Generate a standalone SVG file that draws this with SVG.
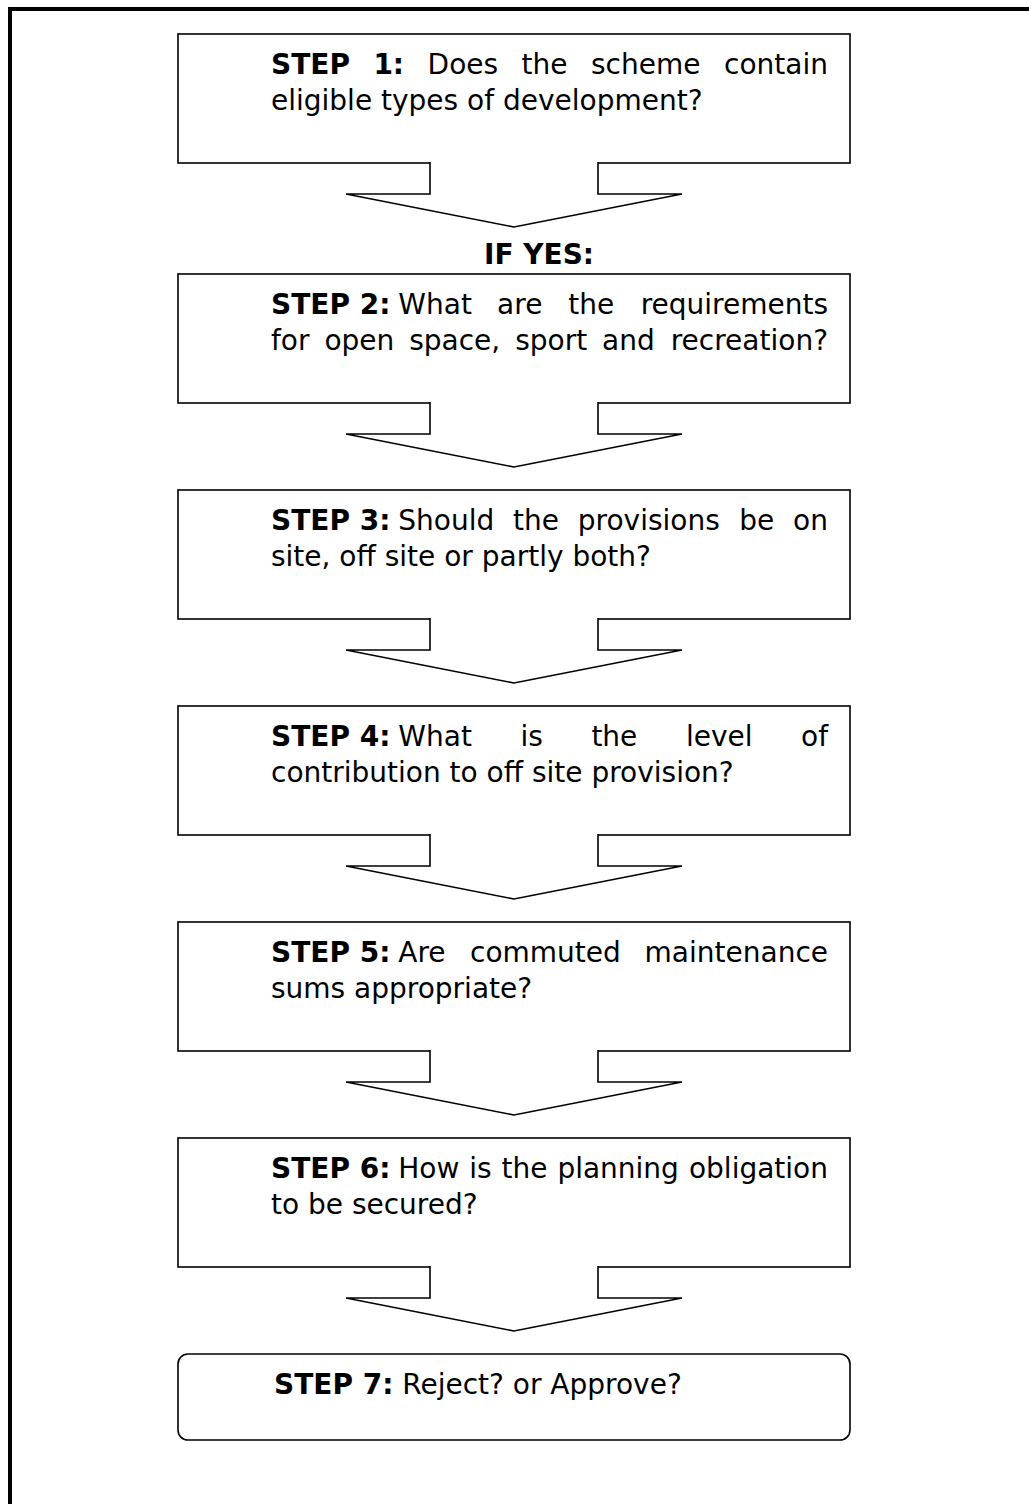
<svg xmlns="http://www.w3.org/2000/svg" width="1029" height="1504" viewBox="0 0 1029 1504">
<style>
.box{fill:#fff;stroke:#000;stroke-width:1.6}
.arr{fill:#fff;stroke:#000;stroke-width:1.6;stroke-linejoin:miter}
.t{font-family:"DejaVu Sans","Liberation Sans",sans-serif;font-size:28px;fill:#000}
.b{font-weight:bold}
.frame{stroke:#000;stroke-width:4;fill:none}
</style>
<rect width="1029" height="1504" fill="#fff"/>
<path class="frame" d="M10,1504 L10,9 L1029,9"/>
<g id="step1">
<rect class="box" x="178" y="34" width="672" height="129"/>
<text class="t b" x="271" y="74">STEP</text><text class="t b" x="373.4" y="74">1:</text>
<text class="t" x="427.6" y="74">Does</text><text class="t" x="521.6" y="74">the</text><text class="t" x="591" y="74">scheme</text><text class="t" x="828" y="74" text-anchor="end">contain</text>
<text class="t" x="271" y="109.5">eligible types of development?</text>
</g>
<g id="ifyes"><text class="t b" x="484" y="264">IF YES:</text></g>
<g id="step2">
<rect class="box" x="178" y="274" width="672" height="129"/>
<text class="t b" x="271" y="314">STEP 2:</text>
<text class="t" x="398.3" y="314">What</text><text class="t" x="497.1" y="314">are</text><text class="t" x="568.2" y="314">the</text><text class="t" x="828" y="314" text-anchor="end">requirements</text>
<text class="t" x="271" y="349.5">for</text><text class="t" x="324.4" y="349.5">open</text><text class="t" x="409.2" y="349.5">space,</text><text class="t" x="515.2" y="349.5">sport</text><text class="t" x="602.1" y="349.5">and</text><text class="t" x="828" y="349.5" text-anchor="end">recreation?</text>
</g>
<g id="step3">
<rect class="box" x="178" y="490" width="672" height="129"/>
<text class="t b" x="271" y="530">STEP 3:</text>
<text class="t" x="398.3" y="530">Should</text><text class="t" x="513.1" y="530">the</text><text class="t" x="577.8" y="530">provisions</text><text class="t" x="739.2" y="530">be</text><text class="t" x="828" y="530" text-anchor="end">on</text>
<text class="t" x="271" y="565.5">site, off site or partly both?</text>
</g>
<g id="step4">
<rect class="box" x="178" y="706" width="672" height="129"/>
<text class="t b" x="271" y="746">STEP 4:</text>
<text class="t" x="398.3" y="746">What</text><text class="t" x="520.5" y="746">is</text><text class="t" x="591.4" y="746">the</text><text class="t" x="685.9" y="746">level</text><text class="t" x="828" y="746" text-anchor="end">of</text>
<text class="t" x="271" y="781.5">contribution to off site provision?</text>
</g>
<g id="step5">
<rect class="box" x="178" y="922" width="672" height="129"/>
<text class="t b" x="271" y="962">STEP 5:</text>
<text class="t" x="398.3" y="962">Are</text><text class="t" x="470" y="962">commuted</text><text class="t" x="828" y="962" text-anchor="end">maintenance</text>
<text class="t" x="271" y="997.5">sums appropriate?</text>
</g>
<g id="step6">
<rect class="box" x="178" y="1138" width="672" height="129"/>
<text class="t b" x="271" y="1178">STEP 6:</text>
<text class="t" x="398.3" y="1178">How</text><text class="t" x="469.3" y="1178">is</text><text class="t" x="501.6" y="1178">the</text><text class="t" x="557.4" y="1178">planning</text><text class="t" x="828" y="1178" text-anchor="end">obligation</text>
<text class="t" x="271" y="1213.5">to be secured?</text>
</g>
<g id="step7">
<rect class="box" x="178" y="1354" width="672" height="86" rx="10" ry="10"/>
<text class="t" x="274" y="1394"><tspan class="b">STEP 7:</tspan> Reject? or Approve?</text>
</g>
<g id="connectors">
<path class="arr" d="M430,162 L430,194 L346,194 L514,227 L682,194 L598,194 L598,162"/>
<path class="arr" d="M430,402 L430,434 L346,434 L514,467 L682,434 L598,434 L598,402"/>
<path class="arr" d="M430,618 L430,650 L346,650 L514,683 L682,650 L598,650 L598,618"/>
<path class="arr" d="M430,834 L430,866 L346,866 L514,899 L682,866 L598,866 L598,834"/>
<path class="arr" d="M430,1050 L430,1082 L346,1082 L514,1115 L682,1082 L598,1082 L598,1050"/>
<path class="arr" d="M430,1266 L430,1298 L346,1298 L514,1331 L682,1298 L598,1298 L598,1266"/>
</g>
</svg>
